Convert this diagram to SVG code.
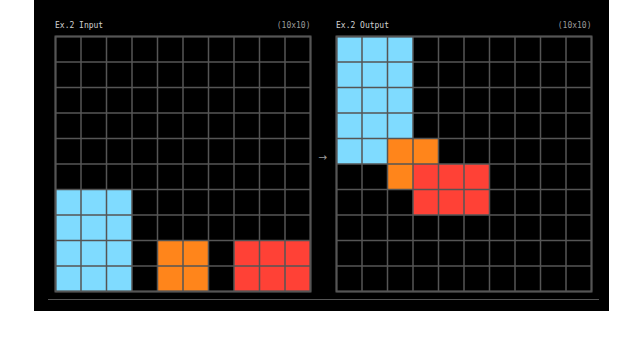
<svg xmlns="http://www.w3.org/2000/svg" width="640" height="343" viewBox="0 0 640 343">
<style>
.bg{fill:#000}
.title{font-family:"DejaVu Sans Mono","Liberation Mono",monospace;font-size:8px;fill:#d0d0d0}
.dim{font-family:"DejaVu Sans Mono","Liberation Mono",monospace;font-size:8px;fill:#9a9a9a}
.c8{fill:#7FDBFF}
.c7{fill:#FF851B}
.c2{fill:#FF4136}
.grid{fill:none;stroke:#555;stroke-width:1.5}
.frame{fill:none;stroke:#555;stroke-width:2}
.arrow{font-family:"DejaVu Sans","Liberation Sans",sans-serif;font-size:10.5px;fill:#999}
</style>
<rect x="0" y="0" width="640" height="343" fill="#fff"/>
<rect class="bg" x="34" y="0" width="575" height="311"/>
<g id="input">
<text class="title" x="55" y="28">Ex.2 Input</text>
<text class="dim" x="310.5" y="28" text-anchor="end">(10x10)</text>
<rect class="bg" x="55.5" y="36.5" width="255" height="255"/>
<rect class="c8" x="55.5" y="189.5" width="76.5" height="102"/>
<rect class="c7" x="157.5" y="240.5" width="51" height="51"/>
<rect class="c2" x="234" y="240.5" width="76.5" height="51"/>
<path class="grid" d="M55.5 36.5V291.5M81 36.5V291.5M106.5 36.5V291.5M132 36.5V291.5M157.5 36.5V291.5M183 36.5V291.5M208.5 36.5V291.5M234 36.5V291.5M259.5 36.5V291.5M285 36.5V291.5M310.5 36.5V291.5M55.5 36.5H310.5M55.5 62H310.5M55.5 87.5H310.5M55.5 113H310.5M55.5 138.5H310.5M55.5 164H310.5M55.5 189.5H310.5M55.5 215H310.5M55.5 240.5H310.5M55.5 266H310.5M55.5 291.5H310.5"/>
<rect class="frame" x="55.5" y="36.5" width="255" height="255"/>
</g>
<g id="output">
<text class="title" x="336" y="28">Ex.2 Output</text>
<text class="dim" x="591.5" y="28" text-anchor="end">(10x10)</text>
<rect class="bg" x="336.5" y="36.5" width="255" height="255"/>
<rect class="c8" x="336.5" y="36.5" width="76.5" height="102"/>
<rect class="c8" x="336.5" y="138.5" width="51" height="25.5"/>
<rect class="c7" x="387.5" y="138.5" width="51" height="25.5"/>
<rect class="c7" x="387.5" y="164" width="25.5" height="25.5"/>
<rect class="c2" x="413" y="164" width="76.5" height="51"/>
<path class="grid" d="M336.5 36.5V291.5M362 36.5V291.5M387.5 36.5V291.5M413 36.5V291.5M438.5 36.5V291.5M464 36.5V291.5M489.5 36.5V291.5M515 36.5V291.5M540.5 36.5V291.5M566 36.5V291.5M591.5 36.5V291.5M336.5 36.5H591.5M336.5 62H591.5M336.5 87.5H591.5M336.5 113H591.5M336.5 138.5H591.5M336.5 164H591.5M336.5 189.5H591.5M336.5 215H591.5M336.5 240.5H591.5M336.5 266H591.5M336.5 291.5H591.5"/>
<rect class="frame" x="336.5" y="36.5" width="255" height="255"/>
</g>
<g id="connectors">
<text class="arrow" x="323" y="160.5" text-anchor="middle">→</text>
</g>
<line x1="48" y1="299.5" x2="599" y2="299.5" stroke="#555" stroke-width="1"/>
</svg>
